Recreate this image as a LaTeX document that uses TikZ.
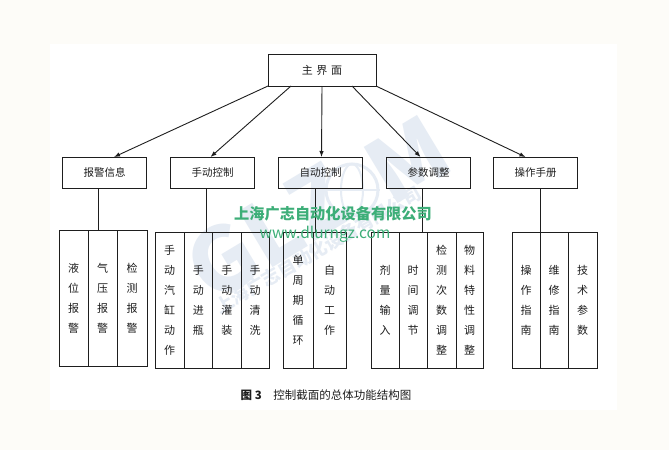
\documentclass[tikz,border=0pt]{standalone}
\usepackage{fontspec}
\setmainfont{Noto Sans CJK SC}
\usepackage{xcolor}
\usetikzlibrary{positioning,arrows.meta}
\definecolor{ink}{HTML}{1E1E1E}
\definecolor{paper}{HTML}{FDFCF8}
\definecolor{mark}{HTML}{3DAE78}
\definecolor{logo}{HTML}{E6ECF4}

\begin{document}
\begin{tikzpicture}[
    x=1pt, y=-1pt,
    node distance=0pt and 24pt,
    topbox/.style={draw=ink, line width=1pt, minimum width=108pt, minimum height=32pt, inner sep=0pt, outer sep=0pt, font=\fontsize{11}{13}\selectfont, text=ink},
    funcbox/.style={draw=ink, line width=1pt, minimum width=84pt, minimum height=31pt, inner sep=0pt, outer sep=0pt, font=\fontsize{10.5}{13}\selectfont, text=ink},
    cell/.style={draw=ink, line width=1pt, minimum width=#1, minimum height=136pt, inner sep=0pt, outer sep=0pt, align=center, font=\fontsize{11}{20}\selectfont, text=ink},
    cell/.default=28.5pt,
    arr/.style={-{Latex[length=6pt, width=4.5pt]}, line width=0.9pt, draw=ink},
    stem/.style={line width=0.9pt, draw=ink}
]
    % Paper
    \useasboundingbox (0,0) rectangle (669,450);
    \fill[paper] (0,0) rectangle (669,450);
    \fill[white] (50,44) rectangle (617,410);

    % Faint logo behind the chart
    \node[rotate=31, text=logo, font=\fontsize{88}{88}\bfseries\selectfont] (logomark) at (268,232) {GLZ};
    \node[rotate=31, text=logo, font=\fontsize{88}{88}\bfseries\selectfont] (logoend) at (408,160) {M};
    \node[circle, draw=logo, line width=3pt, minimum size=52pt] (globe) at (352,190) {};
    \draw[logo, line width=2pt] (globe.center) ellipse (11pt and 26pt);
    \draw[logo, line width=2pt] (globe.west) -- (globe.east);
    \node[rotate=30, text=logo, font=\fontsize{18}{18}\bfseries\selectfont] (logotext) at (318,250) {上海广志自动化设备有限公司};

    % Main screen
    \node[topbox] (main) at (322,70) {主\,\,界\,\,面};

    % Function row
    \node[funcbox] (alarm) at (104.5,172.5) {报警信息};
    \node[funcbox, right=of alarm] (manual) {手动控制};
    \node[funcbox, right=of manual] (auto) {自动控制};
    \node[funcbox, right=of auto] (param) {参数调整};
    \node[funcbox, right=23pt of param] (guide) {操作手册};

    % Alarm cells
    \node[cell=29pt, anchor=north west] (liquid) at (59,230) {液\\位\\报\\警};
    \node[cell=29pt, right=0pt of liquid] (pressure) {气\\压\\报\\警};
    \node[cell=30pt, right=0pt of pressure] (detect) {检\\测\\报\\警};

    % Manual cells
    \node[cell=29pt, anchor=north west] (cylinder) at (155,232) {手\\动\\汽\\缸\\动\\作};
    \node[cell, right=0pt of cylinder] (bottle) {手\\动\\进\\瓶};
    \node[cell, right=0pt of bottle] (fill) {手\\动\\灌\\装};
    \node[cell=28pt, right=0pt of fill] (rinse) {手\\动\\清\\洗};

    % Auto cells
    \node[cell=30pt, anchor=north west] (cycle) at (283,232) {单\\周\\期\\循\\环};
    \node[cell=33pt, right=0pt of cycle] (work) {自\\动\\工\\作};

    % Parameter cells
    \node[cell=28pt, anchor=north west] (dose) at (371,232) {剂\\量\\输\\入};
    \node[cell=28pt, right=0pt of dose] (timing) {时\\间\\调\\节};
    \node[cell=29pt, right=0pt of timing] (count) {检\\测\\次\\数\\调\\整};
    \node[cell=27pt, right=0pt of count] (material) {物\\料\\特\\性\\调\\整};

    % Manual book cells
    \node[cell=28pt, anchor=north west] (operate) at (512,232) {操\\作\\指\\南};
    \node[cell=28pt, right=0pt of operate] (repair) {维\\修\\指\\南};
    \node[cell=29pt, right=0pt of repair] (tech) {技\\术\\参\\数};

    % Connections
    \draw[arr] (main.south west) -- ([xshift=9.5pt]alarm.north);
    \draw[arr] ([xshift=-31pt]main.south) -- ([xshift=-2pt]manual.north);
    \draw[arr] (main.south) -- ([xshift=1pt]auto.north);
    \draw[arr] ([xshift=30pt]main.south) -- ([xshift=-8pt]param.north);
    \draw[arr] (main.south east) -- ([xshift=-10pt]guide.north);

    \draw[stem] ([xshift=-6.5pt]alarm.south) -- ([xshift=-6.5pt]alarm.south |- pressure.north);
    \draw[stem] ([xshift=-6pt]manual.south) -- ([xshift=-6pt]manual.south |- bottle.north);
    \draw[stem] ([xshift=-5pt]auto.south) -- ([xshift=-5pt]auto.south |- cycle.north);
    \draw[stem] ([xshift=-6pt]param.south) -- ([xshift=-6pt]param.south |- timing.north);
    \draw[stem] ([xshift=5pt]guide.south) -- ([xshift=5pt]guide.south |- repair.north);

    % Site stamp and caption
    \node[text=mark, font=\fontsize{15.2}{15}\bfseries\selectfont] (stamp) at (333,214) {上海广志自动化设备有限公司};
    \node[text=mark, font=\fontsize{15.5}{15}\selectfont] (site) at (325,234) {www.dlurngz.com};
    \node[text=ink, font=\fontsize{11.5}{12}\selectfont] (caption) at (326,395) {\textbf{图 3}\quad 控制截面的总体功能结构图};
\end{tikzpicture}
\end{document}
